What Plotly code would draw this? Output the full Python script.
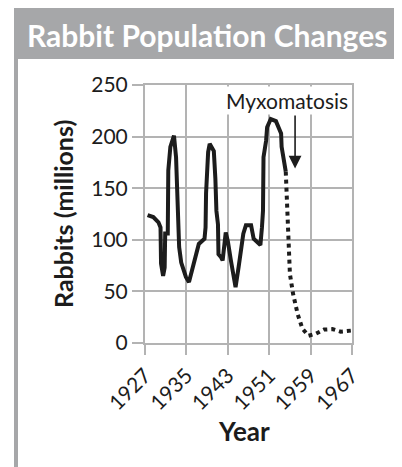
import plotly.graph_objects as go

# ---- data ----
years_solid = [1927.5, 1928.6, 1929.6, 1930.0, 1930.1, 1930.5, 1930.8, 1930.9, 1931.4, 1931.5,
               1931.9, 1932.6, 1933.0, 1933.3, 1933.5, 1933.6, 1934.0, 1934.9, 1935.5, 1936.3,
               1937.4, 1938.5, 1938.7, 1938.8, 1939.2, 1939.5, 1940.3, 1940.6, 1940.8, 1941.1,
               1941.2, 1941.7, 1942.0, 1942.6, 1943.0, 1943.6, 1944.0, 1944.5, 1945.1, 1946.0,
               1946.5, 1947.5, 1948.0, 1949.3, 1949.6, 1949.8, 1949.9, 1950.4, 1950.6, 1951.3,
               1952.3, 1953.3, 1953.4, 1954.2]
rabbits_solid = [124, 122, 117, 112, 77, 65, 73, 106, 106, 167,
                 190, 201, 180, 125, 114, 93, 78, 64, 59, 74,
                 96, 101, 112, 145, 185, 193, 186, 159, 128, 115,
                 86, 83, 80, 107, 99, 80, 67, 54, 74, 106,
                 114, 114, 101, 95, 112, 128, 180, 196, 209, 217,
                 215, 203, 190, 166]

years_dotted = [1954.2, 1954.5, 1954.7, 1955.0, 1955.6, 1956.5, 1957.4, 1958.6, 1960.0,
                1961.6, 1963.2, 1964.8, 1966.8]
rabbits_dotted = [166, 132, 99, 67, 48, 28, 14, 7, 9, 13, 13.5, 11, 12]

x_ticks = [1927, 1935, 1943, 1951, 1959, 1967]
y_ticks = [0, 50, 100, 150, 200, 250]

title_text = "Rabbit Population Changes"
x_title = "Year"
y_title = "Rabbits (millions)"
event_label = "Myxomatosis"
event_year = 1956
event_arrow_from = 222
event_arrow_to = 169

# ---- styling ----
FONT = "Lato, 'Open Sans', sans-serif"
GRID = "#b3b3b3"
BAND = "#a6a7a9"
INK = "#1c1c1c"

OFF = 8  # page body margin
W, H = 402 - OFF, 467 - OFF
L, R, T, B = 145 - OFF, 50, 85 - OFF, 124
PW, PH = W - L - R, H - T - B


def px(xp):
    return (xp - OFF - L) / PW


def py(yp):
    return (H - B - (yp - OFF)) / PH


fig = go.Figure()
fig.add_trace(go.Scatter(x=years_solid, y=rabbits_solid, mode="lines",
                         line=dict(color=INK, width=4), hoverinfo="skip"))
fig.add_trace(go.Scatter(x=years_dotted, y=rabbits_dotted, mode="lines",
                         line=dict(color=INK, width=4, dash="4px,4px"), hoverinfo="skip"))

fig.update_layout(
    width=W, height=H,
    margin=dict(l=L, r=R, t=T, b=B, autoexpand=False),
    paper_bgcolor="white", plot_bgcolor="white",
    showlegend=False,
    font=dict(family=FONT, color=INK, size=20),
)
fig.update_xaxes(range=[1927, 1967], tickvals=x_ticks, ticktext=[str(v) for v in x_ticks],
                 tickangle=-45, showgrid=True, gridcolor=GRID, gridwidth=2,
                 showline=True, linecolor=GRID, linewidth=2, mirror=True,
                 ticks="outside", ticklen=10, tickwidth=2, tickcolor=GRID,
                 zeroline=False, tickfont=dict(size=21, color=INK))
fig.update_yaxes(range=[0, 250], tickvals=y_ticks, showgrid=True, gridcolor=GRID, gridwidth=2,
                 showline=True, linecolor=GRID, linewidth=2, mirror=True,
                 ticks="outside", ticklen=11, tickwidth=2, tickcolor=GRID,
                 zeroline=False, tickfont=dict(size=21, color=INK))

# frame and title band
fig.add_shape(type="rect", xref="paper", yref="paper",
              x0=px(16), x1=px(398), y0=py(480), y1=py(7),
              line=dict(color=BAND, width=4), fillcolor="rgba(0,0,0,0)", layer="below")
fig.add_shape(type="rect", xref="paper", yref="paper",
              x0=px(14), x1=px(400), y0=py(59), y1=py(7),
              line=dict(width=0), fillcolor=BAND, layer="below")

fig.add_annotation(text=f"<b>{title_text}</b>", xref="paper", yref="paper",
                   x=px(207), y=py(35), xanchor="center", yanchor="middle", showarrow=False,
                   font=dict(size=30, color="white", family=FONT))
fig.add_annotation(text=f"<b>{x_title}</b>", xref="paper", yref="paper",
                   x=px(244), y=py(431), xanchor="center", yanchor="middle", showarrow=False,
                   font=dict(size=26, color=INK, family=FONT))
fig.add_annotation(text=f"<b>{y_title}</b>", xref="paper", yref="paper",
                   x=px(63), y=py(214), xanchor="center", yanchor="middle", showarrow=False,
                   textangle=-90, font=dict(size=25, color=INK, family=FONT))

# event annotation
fig.add_annotation(text=event_label, x=1967, y=235, xref="x", yref="y",
                   xanchor="right", yanchor="middle", xshift=-2, showarrow=False,
                   bgcolor="white", borderpad=1, font=dict(size=21, color=INK, family=FONT))
fig.add_annotation(x=event_year, y=event_arrow_to, ax=event_year, ay=event_arrow_from,
                   xref="x", yref="y", axref="x", ayref="y", text="",
                   showarrow=True, arrowhead=2, arrowsize=1.6, arrowwidth=1.6,
                   arrowcolor=INK)

fig.write_html("out.html")
